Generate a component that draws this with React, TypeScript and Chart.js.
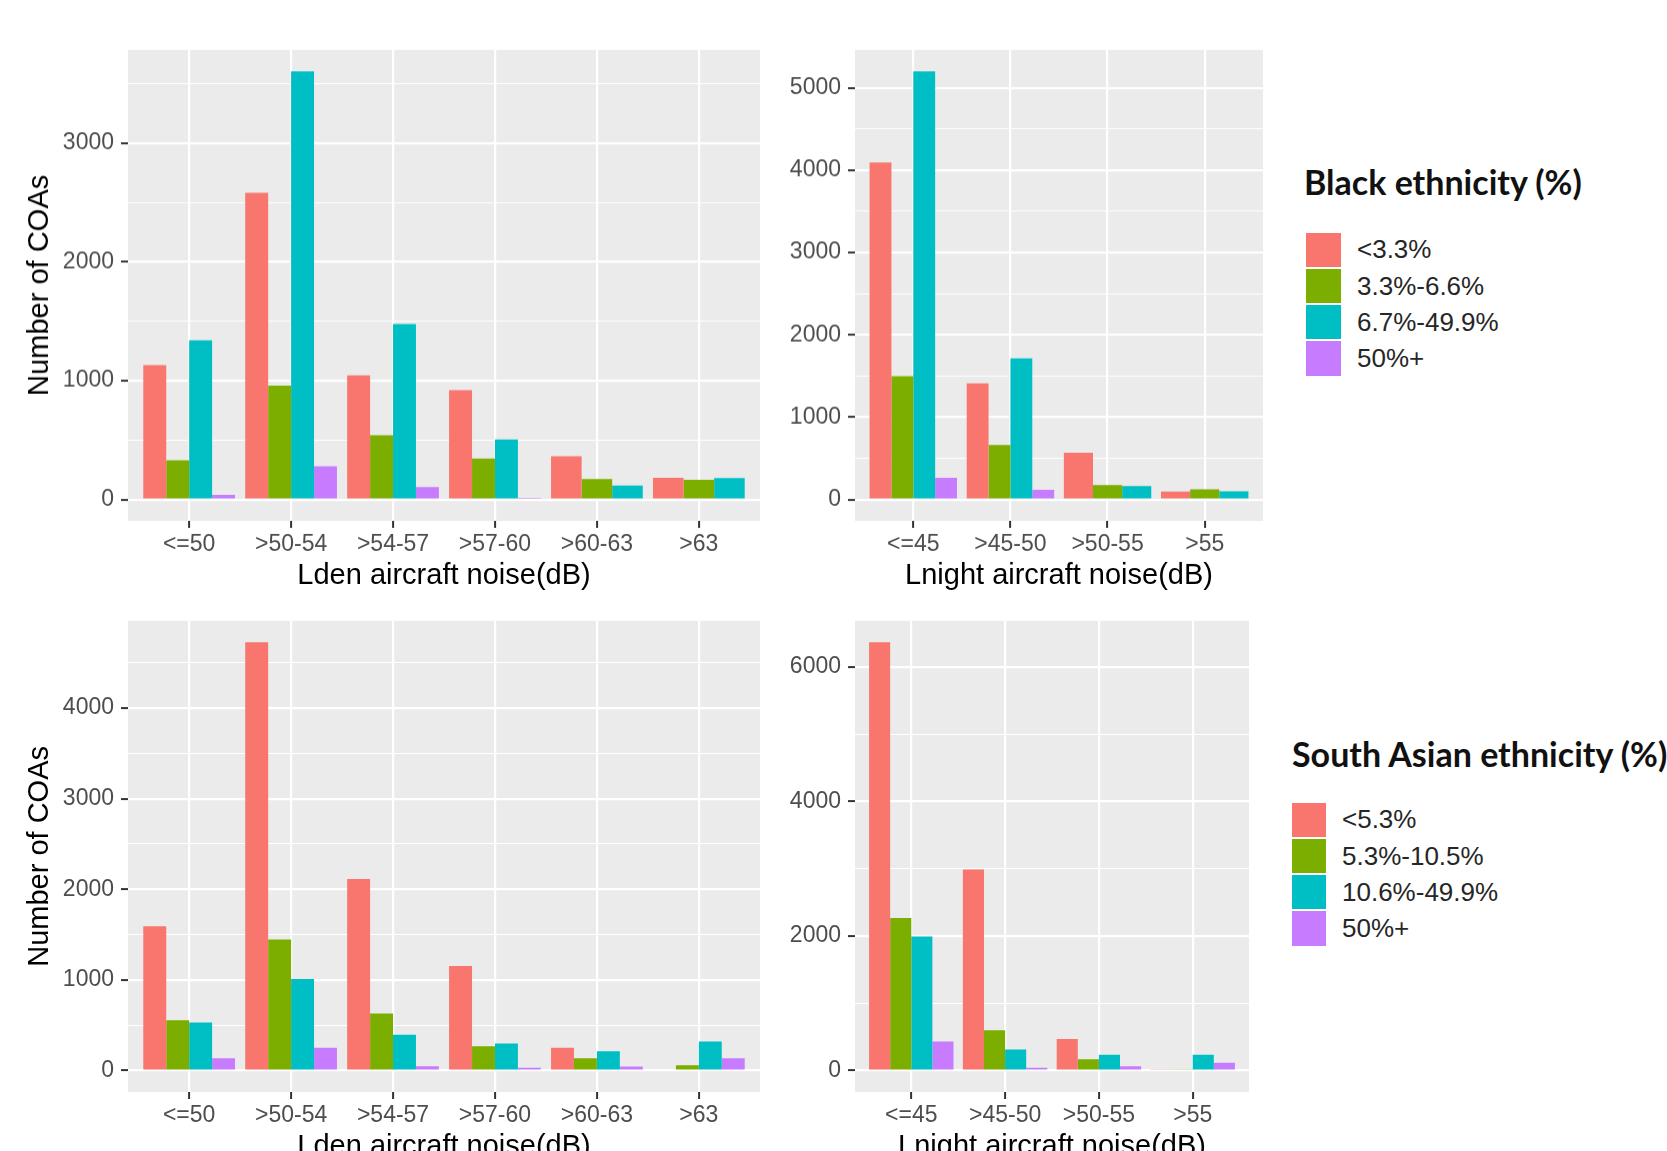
import React, { useEffect, useRef } from 'react';
import { Chart, registerables } from 'chart.js';

Chart.register(...registerables);

const FONT = "'Liberation Sans', Arial, Helvetica, sans-serif";
Chart.defaults.font.family = FONT;

// ---------- data ----------
const ldenCategories = ['<=50', '>50-54', '>54-57', '>57-60', '>60-63', '>63'];
const lnightCategories = ['<=45', '>45-50', '>50-55', '>55'];

const blackLabels = ['<3.3%', '3.3%-6.6%', '6.7%-49.9%', '50%+'];
const southAsianLabels = ['<5.3%', '5.3%-10.5%', '10.6%-49.9%', '50%+'];

const seriesColors = ['#F8766D', '#7CAE00', '#00BFC4', '#C77CFF'];

// Black ethnicity, Lden
const blackLdenLow = [1130, 2580, 1045, 920, 363, 182];
const blackLdenMid = [330, 957, 541, 345, 171, 166];
const blackLdenHigh = [1340, 3604, 1476, 505, 117, 180];
const blackLden50 = [38, 280, 104, 14, null, null];

// Black ethnicity, Lnight
const blackLnightLow = [4093, 1411, 566, 96];
const blackLnightMid = [1497, 662, 174, 122];
const blackLnightHigh = [5200, 1713, 162, 100];
const blackLnight50 = [262, 118, null, null];

// South Asian ethnicity, Lden
const saLdenLow = [1592, 4725, 2113, 1153, 253, 12];
const saLdenMid = [555, 1447, 629, 268, 137, 58];
const saLdenHigh = [531, 1010, 396, 299, 214, 322];
const saLden50 = [137, 252, 47, 30, 46, 137];

// South Asian ethnicity, Lnight
const saLnightLow = [6370, 2990, 470, 14];
const saLnightMid = [2270, 600, 167, 14];
const saLnightHigh = [1995, 313, 235, 235];
const saLnight50 = [433, 42, 63, 116];

// y tick values (major = labelled, minor = thin grid line only)
const blackLdenMajor = [0, 1000, 2000, 3000];
const blackLdenMinor = [500, 1500, 2500, 3500];
const blackLnightMajor = [0, 1000, 2000, 3000, 4000, 5000];
const blackLnightMinor = [500, 1500, 2500, 3500, 4500];
const saLdenMajor = [0, 1000, 2000, 3000, 4000];
const saLdenMinor = [500, 1500, 2500, 3500, 4500];
const saLnightMajor = [0, 2000, 4000, 6000];
const saLnightMinor = [1000, 3000, 5000];

const yTitle = 'Number of COAs';
const ldenTitle = 'Lden aircraft noise(dB)';
const lnightTitle = 'Lnight aircraft noise(dB)';
const blackTitle = 'Black ethnicity (%)';
const southAsianTitle = 'South Asian ethnicity (%)';

// ---------- layout ----------
const PAD_TOP = 20;
const PAD_RIGHT = 10;
const X_AXIS_H = 80;
const TITLE_SIZE = 29;
const TITLE_LH = TITLE_SIZE * 1.2;

const bgPlugin = {
  id: 'panelBg',
  beforeDraw(chart: any) {
    const { ctx, chartArea: a } = chart;
    ctx.save();
    ctx.fillStyle = '#EBEBEB';
    ctx.fillRect(a.left, a.top, a.right - a.left, a.bottom - a.top);
    ctx.restore();
  },
};

type Rect = { left: number; top: number; right: number; bottom: number };

type PanelProps = {
  cats: string[];
  series: (number | null)[][];
  labels: string[];
  major: number[];
  minor: number[];
  xTitle: string;
  yTitleText?: string;
  rect: Rect;
  yAxisW: number;
};

function Panel(p: PanelProps) {
  const ref = useRef<HTMLCanvasElement>(null);
  const W = p.yAxisW + (p.rect.right - p.rect.left) + PAD_RIGHT;
  const H = PAD_TOP + (p.rect.bottom - p.rect.top) + X_AXIS_H;

  useEffect(() => {
    if (!ref.current) return;
    const all = p.series.flat().filter((v) => v != null) as number[];
    const maxV = Math.max(...all);
    const n = p.cats.length;
    const isMajor = (v: number) => p.major.includes(v);
    const chart = new Chart(ref.current, {
      type: 'bar',
      data: {
        datasets: p.series.map((s, i) => ({
          label: p.labels[i],
          data: s.map((y, j) => ({ x: j + 1, y })),
          backgroundColor: seriesColors[i],
          borderWidth: 0,
          skipNull: true,
          categoryPercentage: 0.9,
          barPercentage: 1,
        })) as any,
      },
      options: {
        animation: false,
        responsive: false,
        events: [],
        layout: { padding: { top: PAD_TOP, right: PAD_RIGHT, left: 0, bottom: 0 } },
        plugins: {
          legend: { display: false },
          tooltip: { enabled: false },
        },
        scales: {
          x: {
            type: 'linear',
            min: 0.4,
            max: n + 0.6,
            offset: false,
            afterBuildTicks: (s: any) => {
              s.ticks = p.cats.map((_, i) => ({ value: i + 1 }));
            },
            afterFit: (s: any) => {
              s.height = X_AXIS_H;
            },
            ticks: {
              autoSkip: false,
              maxRotation: 0,
              minRotation: 0,
              padding: 3,
              color: '#4D4D4D',
              font: { size: 23, family: FONT },
              callback: (v: any) => p.cats[Math.round(Number(v)) - 1] ?? '',
            },
            grid: {
              offset: false,
              color: '#FFFFFF',
              lineWidth: 2.2,
              drawTicks: true,
              tickLength: 7,
              tickColor: '#333333',
              tickWidth: 2,
            },
            border: { display: false },
            title: {
              display: true,
              text: p.xTitle,
              color: '#000000',
              font: { size: TITLE_SIZE, family: FONT },
              padding: { top: 0, bottom: X_AXIS_H - 55 - TITLE_LH / 2 },
            },
          },
          y: {
            type: 'linear',
            min: -0.05 * maxV,
            max: 1.05 * maxV,
            afterBuildTicks: (s: any) => {
              s.ticks = [...p.major, ...p.minor].sort((a, b) => a - b).map((v) => ({ value: v }));
            },
            afterFit: (s: any) => {
              s.width = p.yAxisW;
            },
            ticks: {
              autoSkip: false,
              padding: 7,
              color: '#4D4D4D',
              font: { size: 23, family: FONT },
              callback: (v: any) => (isMajor(Number(v)) ? String(v) : ''),
            },
            grid: {
              color: '#FFFFFF',
              lineWidth: (c: any) => (c.tick && isMajor(c.tick.value) ? 2.2 : 1.1),
              drawTicks: true,
              tickLength: 7,
              tickColor: (c: any) => (c.tick && isMajor(c.tick.value) ? '#333333' : 'rgba(0,0,0,0)'),
              tickWidth: 2,
            },
            border: { display: false },
            title: p.yTitleText
              ? {
                  display: true,
                  text: p.yTitleText,
                  color: '#000000',
                  font: { size: TITLE_SIZE, family: FONT },
                  padding: { top: 40 - TITLE_LH / 2, bottom: 0 },
                }
              : { display: false },
          },
        },
      } as any,
      plugins: [bgPlugin],
    });
    return () => chart.destroy();
  }, []);

  return (
    <canvas
      ref={ref}
      width={W}
      height={H}
      style={{
        position: 'absolute',
        left: p.rect.left - p.yAxisW,
        top: p.rect.top - PAD_TOP,
        width: W,
        height: H,
      }}
    />
  );
}

type LegendProps = {
  title: string;
  labels: string[];
  titleLeft: number;
  titleTop: number;
  swLeft: number;
  swTop: number;
  swW: number;
  rowH: number;
  textLeft: number;
};

function Legend(p: LegendProps) {
  return (
    <>
      <div
        style={{
          position: 'absolute',
          left: p.titleLeft,
          top: p.titleTop,
          font: "bold 34px Lato, 'Open Sans', sans-serif",
          lineHeight: '1',
          color: '#111111',
          whiteSpace: 'nowrap',
        }}
      >
        {p.title}
      </div>
      {p.labels.map((lab, i) => (
        <React.Fragment key={lab}>
          <div
            style={{
              position: 'absolute',
              left: p.swLeft,
              top: p.swTop + i * p.rowH + 1,
              width: p.swW,
              height: p.rowH - 2,
              background: seriesColors[i],
            }}
          />
          <div
            style={{
              position: 'absolute',
              left: p.textLeft,
              top: p.swTop + i * p.rowH,
              height: p.rowH,
              display: 'flex',
              alignItems: 'center',
              font: `26px ${FONT}`,
              color: '#262626',
              whiteSpace: 'nowrap',
            }}
          >
            {lab}
          </div>
        </React.Fragment>
      ))}
    </>
  );
}

export default function App() {
  return (
    <div
      style={{
        position: 'fixed',
        left: 0,
        top: 0,
        width: 1667,
        height: 1151,
        overflow: 'hidden',
        background: '#FFFFFF',
      }}
    >
      <Panel
        cats={ldenCategories}
        series={[blackLdenLow, blackLdenMid, blackLdenHigh, blackLden50]}
        labels={blackLabels}
        major={blackLdenMajor}
        minor={blackLdenMinor}
        xTitle={ldenTitle}
        yTitleText={yTitle}
        rect={{ left: 128, top: 49, right: 760, bottom: 520.5 }}
        yAxisW={128}
      />
      <Panel
        cats={lnightCategories}
        series={[blackLnightLow, blackLnightMid, blackLnightHigh, blackLnight50]}
        labels={blackLabels}
        major={blackLnightMajor}
        minor={blackLnightMinor}
        xTitle={lnightTitle}
        rect={{ left: 855, top: 49, right: 1263, bottom: 520.5 }}
        yAxisW={80}
      />
      <Panel
        cats={ldenCategories}
        series={[saLdenLow, saLdenMid, saLdenHigh, saLden50]}
        labels={southAsianLabels}
        major={saLdenMajor}
        minor={saLdenMinor}
        xTitle={ldenTitle}
        yTitleText={yTitle}
        rect={{ left: 128, top: 620, right: 760, bottom: 1092 }}
        yAxisW={128}
      />
      <Panel
        cats={lnightCategories}
        series={[saLnightLow, saLnightMid, saLnightHigh, saLnight50]}
        labels={southAsianLabels}
        major={saLnightMajor}
        minor={saLnightMinor}
        xTitle={lnightTitle}
        rect={{ left: 855, top: 620, right: 1249, bottom: 1092 }}
        yAxisW={80}
      />
      <Legend
        title={blackTitle}
        labels={blackLabels}
        titleLeft={1304}
        titleTop={165}
        swLeft={1306}
        swTop={231.7}
        swW={35}
        rowH={36.25}
        textLeft={1357}
      />
      <Legend
        title={southAsianTitle}
        labels={southAsianLabels}
        titleLeft={1292}
        titleTop={737}
        swLeft={1292}
        swTop={801.7}
        swW={34}
        rowH={36.25}
        textLeft={1342}
      />
    </div>
  );
}
